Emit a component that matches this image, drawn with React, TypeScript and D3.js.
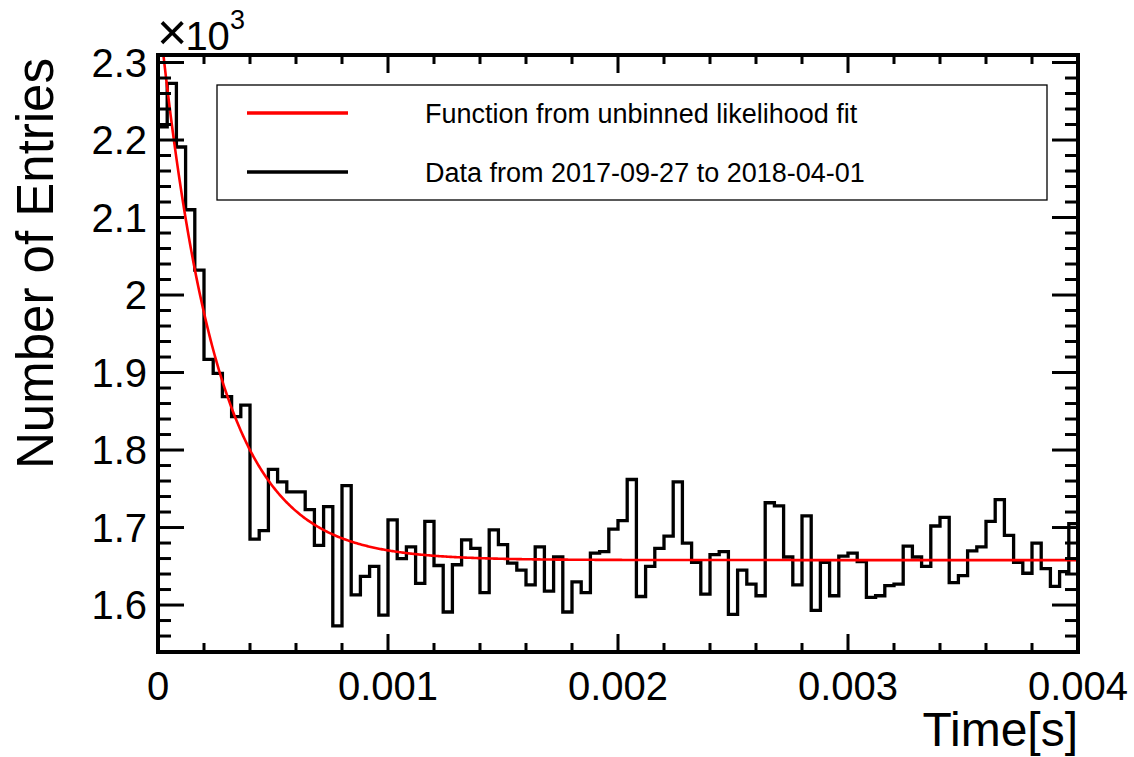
import React from "react";
import * as d3 from "d3";

// Histogram: 100 bins between 0 and 0.004 s (entries per bin)
const binEdgesRange = [0, 0.004];
const binCounts = [
  2217, 2273, 2191, 2110, 2032, 1917, 1899, 1869, 1843, 1858,
  1685, 1696, 1775, 1759, 1746, 1746, 1723, 1677, 1727, 1573,
  1754, 1613, 1637, 1650, 1587, 1710, 1660, 1675, 1628, 1708,
  1651, 1591, 1652, 1684, 1673, 1616, 1697, 1678, 1654, 1645,
  1626, 1675, 1618, 1662, 1591, 1630, 1616, 1667, 1669, 1698,
  1709, 1762, 1611, 1650, 1673, 1689, 1759, 1680, 1655, 1614,
  1665, 1669, 1588, 1645, 1627, 1612, 1732, 1728, 1662, 1626,
  1715, 1593, 1655, 1612, 1663, 1667, 1656, 1610, 1612, 1625,
  1627, 1676, 1662, 1650, 1702, 1713, 1629, 1638, 1670, 1675,
  1708, 1736, 1690, 1655, 1641, 1680, 1647, 1624, 1643, 1705,
];

// Fit function parameters: f(t) = A * exp(-t / tau) + C
const fitA = 717;
const fitTau = 0.000247;
const fitC = 1658;

const xMajorTicks = [0, 0.001, 0.002, 0.003, 0.004];
const xTickLabels = ["0", "0.001", "0.002", "0.003", "0.004"];
const yMajorTicks = [1600, 1700, 1800, 1900, 2000, 2100, 2200, 2300];
const yTickLabels = ["1.6", "1.7", "1.8", "1.9", "2", "2.1", "2.2", "2.3"];

const legendLabels = [
  "Function from unbinned likelihood fit",
  "Data from 2017-09-27 to 2018-04-01",
];
const yTitle = "Number of Entries";
const xTitle = "Time[s]";

const W = 1134;
const H = 757;
const FL = 158, FR = 1078, FT = 55, FB = 652;
const FONT = "'Liberation Sans', Arial, Helvetica, sans-serif";

export default function App() {
  const x = d3.scaleLinear().domain([0, 0.004]).range([FL, FR]);
  const y = d3.scaleLinear().domain([1539.4, 2309.7]).range([FB, FT]);

  const nb = binCounts.length;
  const bw = (binEdgesRange[1] - binEdgesRange[0]) / nb;
  const pts: [number, number][] = [];
  pts.push([x(0), y.range()[0]]);
  binCounts.forEach((c, i) => {
    const x0 = binEdgesRange[0] + i * bw;
    pts.push([x(x0), y(c)]);
    pts.push([x(x0 + bw), y(c)]);
  });
  pts.push([x(binEdgesRange[1]), y.range()[0]]);
  const histPath = d3.line()(pts) || "";

  const fitPts: [number, number][] = d3
    .range(0, 0.004 + 1e-9, 0.000005)
    .map((t) => [x(t), y(fitA * Math.exp(-t / fitTau) + fitC)]);
  const fitPath = d3.line().curve(d3.curveLinear)(fitPts) || "";

  const xMinor = d3.range(0, 0.004 + 1e-9, 0.0002);
  const yMinor = d3.range(1540, 2300 + 1e-6, 20);

  const xMajLen = 18, xMinLen = 9;
  const yMajLen = 26, yMinLen = 13;

  return (
    <svg
      width={W}
      height={H}
      style={{ position: "absolute", left: 0, top: 0, background: "#fff" }}
      fontFamily={FONT}
    >
      <defs>
        <clipPath id="frameClip">
          <rect x={FL} y={FT} width={FR - FL} height={FB - FT} />
        </clipPath>
      </defs>
      <rect x={0} y={0} width={W} height={H} fill="#fff" />

      {/* histogram */}
      <g clipPath="url(#frameClip)">
        <path d={histPath} fill="none" stroke="#000" strokeWidth={3.3} strokeLinejoin="miter" />
        <path d={fitPath} fill="none" stroke="#ff0000" strokeWidth={2.6} />
      </g>

      {/* ticks */}
      <g stroke="#000" strokeWidth={3}>
        {xMinor.map((t, i) => {
          const isMaj = xMajorTicks.some((m) => Math.abs(m - t) < 1e-9);
          const len = isMaj ? xMajLen : xMinLen;
          return (
            <g key={"xt" + i}>
              <line x1={x(t)} x2={x(t)} y1={FB} y2={FB - len} />
              <line x1={x(t)} x2={x(t)} y1={FT} y2={FT + len} />
            </g>
          );
        })}
        {yMinor.map((v, i) => {
          const isMaj = yMajorTicks.includes(Math.round(v));
          const len = isMaj ? yMajLen : yMinLen;
          return (
            <g key={"yt" + i}>
              <line x1={FL} x2={FL + len} y1={y(v)} y2={y(v)} />
              <line x1={FR} x2={FR - len} y1={y(v)} y2={y(v)} />
            </g>
          );
        })}
      </g>

      {/* frame */}
      <rect x={FL} y={FT} width={FR - FL} height={FB - FT} fill="none" stroke="#000" strokeWidth={4} />

      {/* x tick labels */}
      {xMajorTicks.map((t, i) => (
        <text key={"xl" + i} x={x(t)} y={700} fontSize={40} textAnchor="middle" fill="#000">
          {xTickLabels[i]}
        </text>
      ))}
      {/* y tick labels */}
      {yMajorTicks.map((v, i) => (
        <text key={"yl" + i} x={147} y={y(v)} dy="0.36em" fontSize={40} textAnchor="end" fill="#000">
          {yTickLabels[i]}
        </text>
      ))}
      {/* exponent */}
      <text x={157} y={50} fontSize={40} fill="#000">
        <tspan fontSize={52}>×</tspan>
        <tspan dx={-2}>10</tspan>
        <tspan fontSize={27} dy={-21}>3</tspan>
      </text>

      {/* axis titles */}
      <text x={1078} y={746} fontSize={48} textAnchor="end" fill="#000">
        {xTitle}
      </text>
      <text
        transform={`translate(53,58) rotate(-90)`}
        fontSize={51}
        textAnchor="end"
        fill="#000"
      >
        {yTitle}
      </text>

      {/* legend */}
      <rect x={217} y={85} width={830} height={115} fill="#fff" stroke="#000" strokeWidth={1.3} />
      <line x1={247} x2={348} y1={113} y2={113} stroke="#ff0000" strokeWidth={3.3} />
      <line x1={247} x2={348} y1={172} y2={172} stroke="#000" strokeWidth={3.3} />
      <text x={425} y={113} dy="0.36em" fontSize={27} fill="#000">
        {legendLabels[0]}
      </text>
      <text x={425} y={172} dy="0.36em" fontSize={27} fill="#000">
        {legendLabels[1]}
      </text>
    </svg>
  );
}
